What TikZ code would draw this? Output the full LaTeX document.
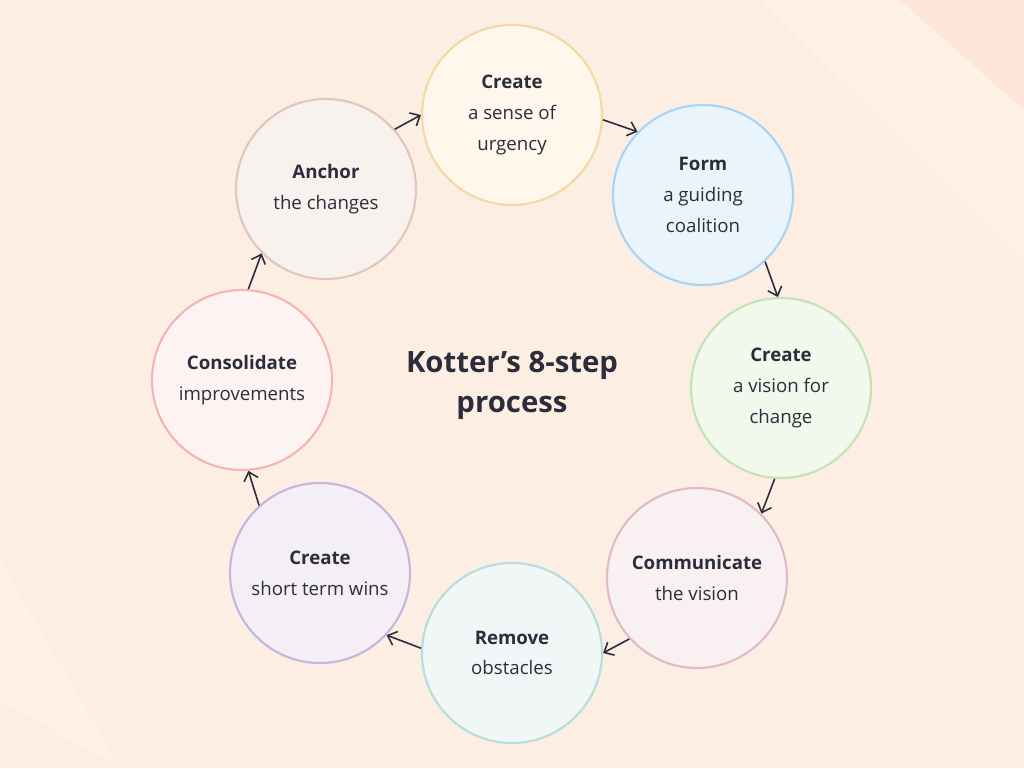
\documentclass[tikz,border=0pt]{standalone}
\usepackage{fontspec}
\setmainfont{Open Sans}
\definecolor{bg}{HTML}{FDEEE3}
\definecolor{bglight}{HTML}{FEF1E8}
\definecolor{bgdark}{HTML}{FDE6D8}
\definecolor{ink}{HTML}{2B2D3A}
\usetikzlibrary{arrows.meta}
\tikzset{
  stage/.style={circle,minimum size=135pt,inner sep=0pt,line width=1.6pt,align=center,
    font=\fontsize{14}{23}\selectfont,text=ink},
  arr/.style={->,>={Straight Barb[length=6pt,width=11pt]},line width=1.2pt,draw=ink}
}
\begin{document}
\begin{tikzpicture}[x=0.75pt,y=-0.75pt]
  \useasboundingbox (0,0) rectangle (1024,768);
  \fill[bg] (0,0) rectangle (1024,768);
  \fill[bglight] (760,0) -- (900,0) -- (1024,110) -- (1024,260) -- cycle;
  \fill[bgdark] (900,0) -- (1024,0) -- (1024,110) -- cycle;
  \fill[bglight] (0,560) -- (0,700) -- (120,768) -- cycle;
  \node (urgency) at (512,115) [stage,draw={rgb,255:red,245;green,217;blue,160},fill={rgb,255:red,255;green,247;blue,236}] {\textbf{Create}\\a sense of\\urgency};
  \node (coalition) at (703,195) [stage,draw={rgb,255:red,168;green,212;blue,245},fill={rgb,255:red,234;green,244;blue,253}] {\textbf{Form}\\a guiding\\coalition};
  \node (vision) at (781,388) [stage,draw={rgb,255:red,196;green,227;blue,181},fill={rgb,255:red,242;green,248;blue,236}] {\textbf{Create}\\a vision for\\change};
  \node (communicate) at (697,578) [stage,draw={rgb,255:red,226;green,185;blue,203},fill={rgb,255:red,249;green,240;blue,241}] {\textbf{Communicate}\\the vision};
  \node (obstacles) at (512,653) [stage,draw={rgb,255:red,183;green,222;blue,220},fill={rgb,255:red,241;green,247;blue,246}] {\textbf{Remove}\\obstacles};
  \node (wins) at (320,573) [stage,draw={rgb,255:red,198;green,181;blue,222},fill={rgb,255:red,244;green,239;blue,246}] {\textbf{Create}\\short term wins};
  \node (consolidate) at (242,380) [stage,draw={rgb,255:red,245;green,181;blue,181},fill={rgb,255:red,253;green,243;blue,242}] {\textbf{Consolidate}\\improvements};
  \node (anchor) at (326,189) [stage,draw={rgb,255:red,226;green,198;blue,186},fill={rgb,255:red,248;green,242;blue,238}] {\textbf{Anchor}\\the changes};
  \node (title) at (512,385) [align=center,text=ink,font=\fontsize{22}{30}\selectfont\bfseries] {Kotter’s 8-step\\process};
  \draw [arr] (urgency.-3) to (coalition.136);
  \draw [arr] (coalition.-47) to (vision.92);
  \draw [arr] (vision.-94) to (communicate.45);
  \draw [arr] (communicate.-138) to (obstacles.0);
  \draw [arr] (obstacles.177) to (wins.-43);
  \draw [arr] (wins.132) to (consolidate.-86);
  \draw [arr] (consolidate.86) to (anchor.-135);
  \draw [arr] (anchor.41) to (urgency.180);
\end{tikzpicture}
\end{document}
